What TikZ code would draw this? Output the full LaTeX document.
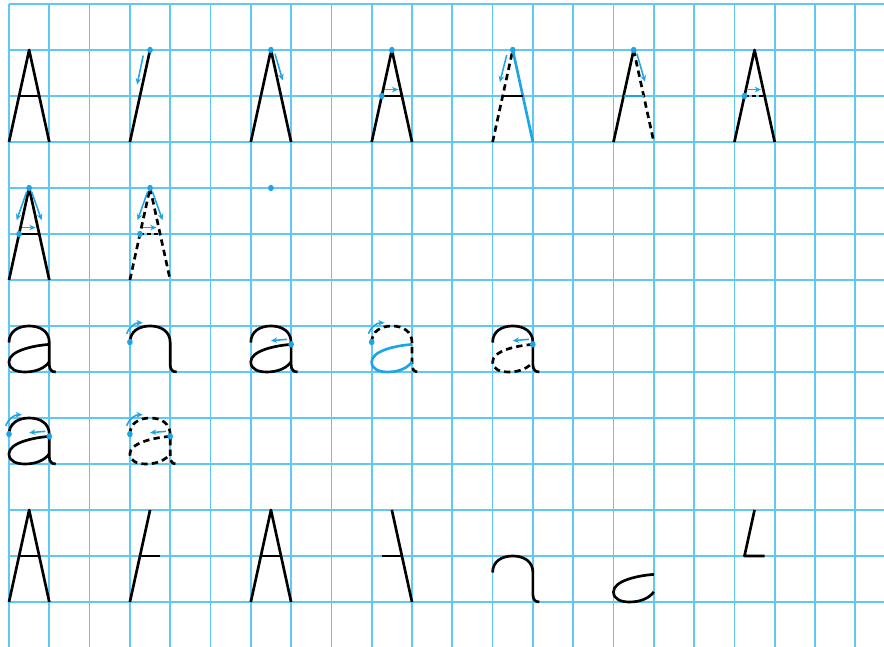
\documentclass[tikz,border=0pt]{standalone}
\usetikzlibrary{arrows.meta}
\definecolor{gridblue}{RGB}{95,200,245}
\definecolor{inkblue}{RGB}{30,165,230}
\tikzset{
  gridline/.style={gridblue, line width=1.2pt},
  stroke/.style={black, line width=1.9pt, line join=round},
  dashstroke/.style={stroke, dash pattern=on 4.5pt off 3pt},
  bluestroke/.style={stroke, draw=inkblue},
  guide/.style={inkblue, line width=1.1pt, -{Stealth[length=4.5pt,width=4pt]}},
  startdot/.style={fill=inkblue},
}
\newcommand{\glegL}{(0,0) -- (0.5,2)}
\newcommand{\glegR}{(0.5,2) -- (1,0)}
\newcommand{\gframe}{(0,0) -- (0.5,2) -- (1,0)}
\newcommand{\gbar}{(0.25,1) -- (0.75,1)}
\newcommand{\ghump}{(0,0.64) .. controls (0,0.88) and (0.22,1) .. (0.5,1) .. controls (0.78,1) and (1,0.88) .. (1,0.64) -- (1,0.16) .. controls (1,0.05) and (1.06,0) .. (1.16,0)}
\newcommand{\gbowl}{(1,0.6) .. controls (0.55,0.57) and (0,0.45) .. (0,0.22) .. controls (0,0.05) and (0.2,0) .. (0.4,0) .. controls (0.7,0) and (0.9,0.1) .. (1,0.22)}
\begin{document}
\begin{tikzpicture}[x=1.0075cm, y=1.15cm]
\useasboundingbox (-0.2233,-0.978) rectangle (21.712,13.087);

% squared paper
\foreach \i in {0,...,21} \draw[gridline] (\i,13) -- (\i,-0.98);
\foreach \k in {0,...,13} \draw[gridline] (0,\k) -- (21.72,\k);

% row 1: capital A, stroke by stroke
\begin{scope}[shift={(0,10)}]
  \draw[stroke] \gframe;
  \draw[stroke] \gbar;
\end{scope}
\begin{scope}[shift={(3,10)}]
  \draw[stroke] \glegL;
  \fill[startdot] (0.5,2) circle (0.07);
  \draw[guide] (0.33,1.88) -- (0.18,1.25);
\end{scope}
\begin{scope}[shift={(6,10)}]
  \draw[stroke] \gframe;
  \fill[startdot] (0.5,2) circle (0.07);
  \draw[guide] (0.6,1.92) -- (0.79,1.34);
\end{scope}
\begin{scope}[shift={(9,10)}]
  \draw[stroke] \gframe;
  \draw[stroke] \gbar;
  \fill[startdot] (0.5,2) circle (0.07);
  \fill[startdot] (0.25,1) circle (0.07);
  \draw[guide] (0.33,1.14) -- (0.66,1.14);
\end{scope}
\begin{scope}[shift={(12,10)}]
  \draw[dashstroke] \glegL;
  \draw[bluestroke] \glegR;
  \draw[stroke] \gbar;
  \fill[startdot] (0.5,2) circle (0.07);
  \draw[guide] (0.35,1.89) -- (0.18,1.3);
\end{scope}
\begin{scope}[shift={(15,10)}]
  \draw[stroke] \glegL;
  \draw[dashstroke] \glegR;
  \draw[bluestroke] \gbar;
  \fill[startdot] (0.5,2) circle (0.07);
  \draw[guide] (0.58,1.92) -- (0.78,1.31);
\end{scope}
\begin{scope}[shift={(18,10)}]
  \draw[stroke] \gframe;
  \draw[dashstroke, dash pattern=on 3pt off 2pt] \gbar;
  \fill[startdot] (0.25,1) circle (0.07);
  \draw[guide] (0.33,1.14) -- (0.66,1.14);
\end{scope}

% row 2: whole A with all guides
\begin{scope}[shift={(0,7)}]
  \draw[stroke] \gframe;
  \draw[stroke] \gbar;
\end{scope}
\begin{scope}[shift={(3,7)}]
  \draw[dashstroke] \glegL;
  \draw[dashstroke] \glegR;
  \draw[dashstroke, dash pattern=on 3pt off 2pt] \gbar;
\end{scope}
\foreach \sx in {0,3} {
  \begin{scope}[shift={(\sx,7)}]
    \fill[startdot] (0.5,2) circle (0.07);
    \fill[startdot] (0.25,1) circle (0.07);
    \draw[guide] (0.44,1.92) -- (0.19,1.3);
    \draw[guide] (0.56,1.92) -- (0.81,1.3);
    \draw[guide] (0.33,1.14) -- (0.66,1.14);
  \end{scope}
}
\fill[startdot] (6.5,9) circle (0.07);

% row 3: small a, stroke by stroke
\begin{scope}[shift={(0,5)}]
  \draw[stroke] \ghump;
  \draw[stroke] \gbowl;
\end{scope}
\begin{scope}[shift={(3,5)}]
  \draw[stroke] \ghump;
  \fill[startdot] (0,0.65) circle (0.07);
  \draw[guide] (-0.08,0.83) to[bend left=35] (0.32,1.07);
\end{scope}
\begin{scope}[shift={(6,5)}]
  \draw[stroke] \ghump;
  \draw[stroke] \gbowl;
  \fill[startdot] (1,0.6) circle (0.07);
  \draw[guide] (0.9,0.71) -- (0.5,0.68);
\end{scope}
\begin{scope}[shift={(9,5)}]
  \draw[dashstroke] \ghump;
  \draw[bluestroke] \gbowl;
  \fill[startdot] (0,0.65) circle (0.07);
  \draw[guide] (-0.08,0.83) to[bend left=35] (0.32,1.07);
\end{scope}
\begin{scope}[shift={(12,5)}]
  \draw[stroke] \ghump;
  \draw[dashstroke] \gbowl;
  \fill[startdot] (1,0.6) circle (0.07);
  \draw[guide] (0.9,0.71) -- (0.5,0.68);
\end{scope}

% row 4: whole a with both guides
\begin{scope}[shift={(0,3)}]
  \draw[stroke] \ghump;
  \draw[stroke] \gbowl;
\end{scope}
\begin{scope}[shift={(3,3)}]
  \draw[dashstroke] \ghump;
  \draw[dashstroke] \gbowl;
\end{scope}
\foreach \sx in {0,3} {
  \begin{scope}[shift={(\sx,3)}]
    \fill[startdot] (0,0.65) circle (0.07);
    \draw[guide] (-0.08,0.83) to[bend left=35] (0.32,1.07);
    \fill[startdot] (1,0.6) circle (0.07);
    \draw[guide] (0.9,0.71) -- (0.5,0.68);
  \end{scope}
}

% row 5: strokes on their own
\begin{scope}[shift={(0,0)}]
  \draw[stroke] \gframe;
  \draw[stroke] \gbar;
\end{scope}
\begin{scope}[shift={(3,0)}]
  \draw[stroke] \glegL;
  \draw[stroke] \gbar;
\end{scope}
\begin{scope}[shift={(6,0)}]
  \draw[stroke] \gframe;
  \draw[stroke] \gbar;
\end{scope}
\begin{scope}[shift={(9,0)}]
  \draw[stroke] \glegR;
  \draw[stroke] \gbar;
\end{scope}
\begin{scope}[shift={(12,0)}]
  \draw[stroke] \ghump;
\end{scope}
\begin{scope}[shift={(15,0)}]
  \draw[stroke] \gbowl;
\end{scope}
\begin{scope}[shift={(18,0)}]
  \draw[stroke] (0.5,2) -- (0.25,1) -- (0.75,1);
\end{scope}
\end{tikzpicture}
\end{document}
